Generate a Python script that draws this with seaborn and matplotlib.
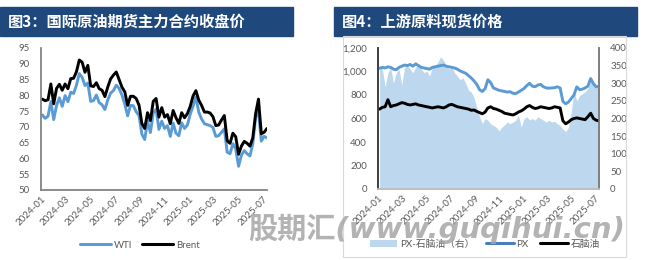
import numpy as np
import pandas as pd
import matplotlib
matplotlib.use('Agg')
import matplotlib.pyplot as plt
import matplotlib.dates as mdates
import seaborn as sns
from matplotlib.patches import Rectangle, Patch
from matplotlib.lines import Line2D
from matplotlib.ticker import FuncFormatter, MultipleLocator

# ---------------- data (weekly) ----------------
week_start = '2024-01-05'
n_weeks = 80

wti = [73.8, 72.7, 73.4, 78.0,
       72.3, 76.8, 79.2, 76.5,
       79.9, 78.0, 81.0, 80.6, 83.2,
       86.9, 85.7, 83.1, 83.9,
       78.1, 78.3, 80.1, 77.7, 77.0,
       75.5, 78.5, 80.7, 81.5,
       83.2, 82.2, 80.1, 77.2,
       73.5, 76.8, 76.7, 74.8, 73.6,
       67.7, 66.0, 71.9, 68.2,
       74.4, 75.6, 69.2, 71.8,
       69.5, 70.4, 67.0, 71.2, 68.0,
       67.2, 71.3, 69.5, 70.6,
       74.0, 76.6, 79.5, 74.7, 72.5,
       71.0, 70.7, 70.4, 69.8,
       67.0, 67.2, 68.3, 69.4,
       62.0, 61.5, 64.7, 63.0,
       57.5, 61.0, 62.5, 61.5, 60.8,
       64.6, 73.0, 75.0, 65.5,
       67.0, 66.5]

brent = [78.8, 78.3, 78.6, 83.6,
         77.3, 82.2, 83.5, 81.6,
         83.6, 82.1, 85.3, 85.4, 87.5,
         91.2, 90.5, 87.3, 89.5,
         83.0, 82.8, 84.0, 82.1, 81.6,
         79.6, 82.6, 85.2, 86.4,
         87.4, 85.0, 82.6, 81.1,
         76.8, 79.7, 79.7, 79.0, 76.9,
         71.1, 69.5, 74.5, 72.0,
         78.1, 79.0, 73.1, 76.1,
         73.1, 73.9, 71.0, 75.2, 72.9,
         71.1, 74.5, 72.9, 74.2,
         76.5, 79.8, 81.5, 78.5, 76.8,
         74.7, 74.7, 74.4, 73.2,
         70.4, 70.6, 72.2, 73.6,
         65.6, 64.8, 68.0, 66.9,
         61.3, 63.9, 65.4, 64.8, 63.9,
         66.5, 74.2, 78.8, 67.8,
         68.3, 69.5]

px = [1027, 1035, 1030, 1040,
      1035, 1020, 1015, 1035,
      1045, 1055, 1050, 1060, 1045,
      1065, 1050, 1035, 1030,
      1025, 1020, 1035, 1040, 1045,
      1050, 1055, 1045, 1040,
      1035, 1030, 1020, 1005,
      995, 985, 965, 945, 920,
      890, 845, 830, 855,
      930, 905, 860, 850,
      840, 835, 830, 825, 828,
      815, 812, 825, 840,
      855, 880, 900, 875, 870,
      885, 890, 870, 860,
      858, 860, 862, 870,
      860, 745, 725, 740,
      770, 800, 870, 845, 850,
      860, 875, 940, 895,
      870, 875]

naphtha = [680, 695, 700, 760,
           700, 710, 715, 725,
           735, 730, 720, 715, 720,
           725, 715, 710, 705,
           700, 695, 690, 695, 700,
           695, 690, 700, 715,
           720, 710, 700, 695,
           690, 685, 680, 670, 672,
           660, 650, 640, 655,
           690, 700, 685, 680,
           670, 660, 645, 640, 635,
           630, 640, 655, 665,
           680, 700, 710, 695, 685,
           690, 700, 695, 690,
           685, 690, 700, 695,
           690, 580, 555, 570,
           590, 600, 605, 600, 595,
           590, 615, 645, 600,
           585, 580]

spread = [350, 340, 290, 330,
          345, 300, 330, 340,
          295, 345, 350, 340, 330,
          345, 355, 340, 330,
          335, 320, 345, 350, 360,
          375, 365, 350, 340,
          345, 330, 320, 310,
          315, 300, 280, 275, 260,
          230, 205, 186, 200,
          195, 185, 180, 175,
          165, 175, 182, 190, 185,
          190, 195, 210, 175,
          200, 205, 196, 200, 195,
          205, 200, 195, 190,
          195, 190, 192, 185,
          180, 170, 163, 175,
          220, 276, 250, 265, 270,
          276, 285, 305, 295,
          290, 295]

title_left = '图3：国际原油期货主力合约收盘价'
title_right = '图4：上游原料现货价格'
watermark = '股期汇(www.guqihui.cn)'

dates = pd.date_range(week_start, periods=n_weeks, freq='W-FRI')
df1 = pd.DataFrame({'date': dates, 'WTI': wti, 'Brent': brent})
df2 = pd.DataFrame({'date': dates, 'PX': px, '石脑油': naphtha, 'spread': spread})

# ---------------- style ----------------
sns.set_theme(style='white')
plt.rcParams['font.family'] = ['Lato', 'Noto Sans CJK SC', 'DejaVu Sans']
TICK = '#595959'
BLUE = '#5B9BD5'
AREA = '#BDD7EE'
BAR = '#1F497D'
W, H = 651, 260

fig = plt.figure(figsize=(W / 100, H / 100), dpi=100)

def fx(px_):
    return px_ / W

def fy(py_):
    return 1 - py_ / H

# title bars
for x0, x1, txt in [(0, 293, title_left), (334, 637, title_right)]:
    fig.patches.append(Rectangle((fx(x0), fy(36)), fx(x1) - fx(x0), fy(7) - fy(36),
                                 transform=fig.transFigure, color=BAR, zorder=0))
    fig.text(fx(x0 + 8), fy(21.5), txt, color='white', fontsize=11, fontweight='bold',
             va='center', ha='left', family=['Noto Sans CJK SC', 'DejaVu Sans'])

# right panel frame
fig.patches.append(Rectangle((fx(343), fy(257)), fx(626) - fx(343), fy(36) - fy(257),
                             transform=fig.transFigure, facecolor='none',
                             edgecolor='#D9D9D9', lw=0.8, zorder=0))

xmin = pd.Timestamp('2024-01-01')
xmax = pd.Timestamp('2025-07-11')
loc = mdates.MonthLocator(bymonth=[1, 3, 5, 7, 9, 11])
fmt = mdates.DateFormatter('%Y-%m')

# ---------------- left chart ----------------
ax1 = fig.add_axes([fx(40.7), fy(190), fx(267) - fx(40.7), fy(48) - fy(190)])
sns.lineplot(data=df1, x='date', y='WTI', ax=ax1, color=BLUE, lw=2.1, label='WTI')
sns.lineplot(data=df1, x='date', y='Brent', ax=ax1, color='black', lw=2.1, label='Brent')
ax1.set_xlim(xmin, xmax)
ax1.set_ylim(50, 95)
ax1.yaxis.set_major_locator(MultipleLocator(5))
ax1.xaxis.set_major_locator(loc)
ax1.xaxis.set_major_formatter(fmt)
ax1.set_xlabel('')
ax1.set_ylabel('')
ax1.legend_.remove()
for s in ['top', 'right']:
    ax1.spines[s].set_visible(False)
ax1.spines['left'].set_color('#7F7F7F')
ax1.spines['bottom'].set_color('#7F7F7F')
ax1.tick_params(axis='both', length=0, labelsize=7, labelcolor=TICK)
ax1.tick_params(axis='y', pad=8)
for lab in ax1.get_xticklabels():
    lab.set_rotation(45)
    lab.set_ha('right')
    lab.set_rotation_mode('anchor')

fig.legend(handles=[Line2D([], [], color=BLUE, lw=2.2), Line2D([], [], color='black', lw=2.2)],
           labels=['WTI', 'Brent'], loc='center', bbox_to_anchor=(fx(140), fy(245)),
           ncol=2, frameon=False, fontsize=7, handlelength=3.2, columnspacing=1.0,
           handletextpad=0.3, labelcolor=TICK)

# ---------------- right chart ----------------
ax2 = fig.add_axes([fx(378), fy(189), fx(599) - fx(378), fy(48) - fy(189)])
ax2r = ax2.twinx()
ax2r.fill_between(df2['date'], df2['spread'], 0, color=AREA, lw=0)
ax2r.set_ylim(0, 400)
ax2r.yaxis.set_major_locator(MultipleLocator(50))
sns.lineplot(data=df2, x='date', y='PX', ax=ax2, color=BLUE, lw=2.1)
sns.lineplot(data=df2, x='date', y='石脑油', ax=ax2, color='black', lw=2.1)
ax2.set_zorder(ax2r.get_zorder() + 1)
ax2.patch.set_visible(False)
ax2.set_xlim(xmin, xmax)
ax2.set_ylim(0, 1200)
ax2.yaxis.set_major_locator(MultipleLocator(200))
ax2.yaxis.set_major_formatter(FuncFormatter(lambda v, p: f'{v:,.0f}'))
ax2.xaxis.set_major_locator(loc)
ax2.xaxis.set_major_formatter(fmt)
ax2.set_xlabel('')
ax2.set_ylabel('')
for a in (ax2, ax2r):
    a.spines['top'].set_visible(False)
    a.spines['left'].set_color('#404040')
    a.spines['right'].set_color('#808080')
    a.spines['bottom'].set_color('#BFBFBF')
    a.tick_params(axis='both', length=0, labelsize=7, labelcolor=TICK)
ax2.tick_params(axis='y', pad=8)
ax2r.tick_params(axis='y', pad=8)
for lab in ax2.get_xticklabels():
    lab.set_rotation(45)
    lab.set_ha('right')
    lab.set_rotation_mode('anchor')

fig.legend(handles=[Patch(facecolor=AREA, edgecolor='none'),
                    Line2D([], [], color='#4A7EBB', lw=2.2),
                    Line2D([], [], color='black', lw=2.2)],
           labels=['PX-石脑油（右）', 'PX', '石脑油'], loc='center',
           bbox_to_anchor=(fx(485), fy(244)), ncol=3, frameon=False, fontsize=7,
           handlelength=2.8, columnspacing=1.2, handletextpad=0.3, labelcolor=TICK,
           prop={'family': ['Lato', 'Noto Sans CJK SC'], 'size': 7})

# watermark
fig.text(fx(248), fy(229), watermark, fontsize=21, fontweight='bold', style='italic',
         color='#A6A6A6', alpha=0.85, ha='left', va='center',
         family=['DejaVu Sans', 'Noto Sans CJK SC'], zorder=10)

fig.savefig('out.png', dpi=100)
